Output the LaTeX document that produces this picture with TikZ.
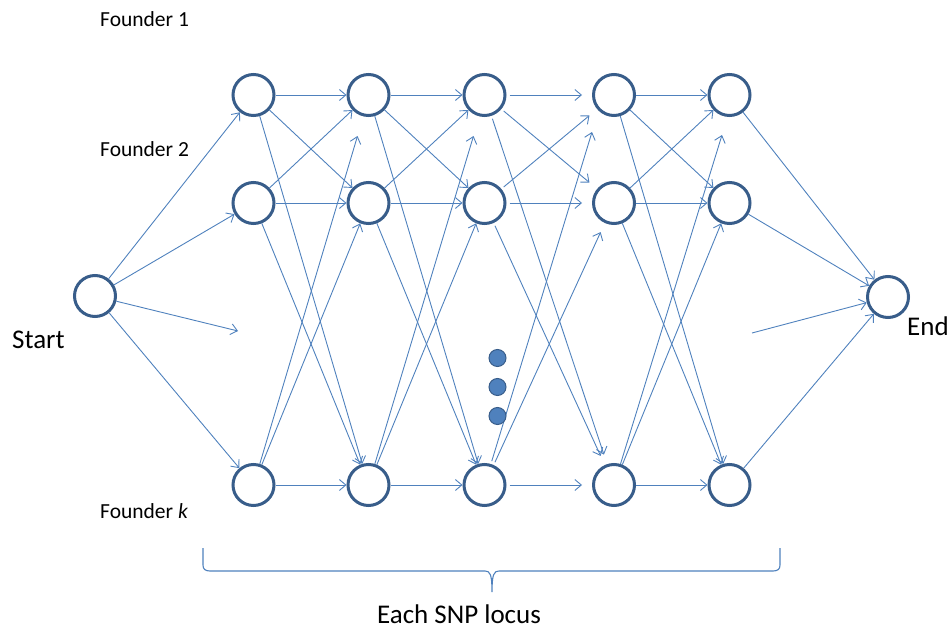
\documentclass[tikz,border=0pt]{standalone}
\usepackage{fontspec}
\setmainfont{Carlito}
\usetikzlibrary{arrows.meta}
\definecolor{lineblue}{RGB}{79,129,189}
\definecolor{ringblue}{RGB}{56,93,138}
\definecolor{dotblue}{RGB}{79,129,189}
\begin{document}
\begin{tikzpicture}[x=1pt,y=-1pt,
  state/.style={circle,draw=ringblue,line width=3pt,fill=white,minimum size=41pt,inner sep=0pt},
  conn/.style={draw=lineblue,line width=0.9pt,-{Straight Barb[length=6.5pt,width=11pt]}},
  gap/.style={shorten >=10pt,shorten <=3pt},
  dotnode/.style={circle,fill=dotblue,draw=ringblue,line width=1pt,minimum size=17pt,inner sep=0pt},
  smalllab/.style={font=\fontsize{21.5}{24}\selectfont,anchor=base west,inner sep=0pt,text=black},
  biglab/.style={font=\fontsize{27}{30}\selectfont,inner sep=0pt,text=black},
  bracestyle/.style={draw=lineblue,line width=1.1pt}]
\useasboundingbox (0,0) rectangle (952,628);

% nodes
\node[state] (st) at (95,296) {};
\node[state] (en) at (888,297) {};
\foreach \i/\x in {1/253.5,2/368.5,3/484.5,4/614,5/729.5}{
  \node[state] (t\i) at (\x,95) {};
  \node[state] (m\i) at (\x,203) {};
  \node[state] (b\i) at (\x,485) {};
}

% free ends
\coordinate (fs) at (238,331);
\coordinate (fe) at (752,333);
\coordinate (s2) at (357.5,136);
\coordinate (s3) at (473.5,136);
\coordinate (s4) at (592,132);
\coordinate (s5) at (722,135);

% start connectors
\draw[conn] (st) -- (t1);
\draw[conn] (st) -- (m1);
\draw[conn] (st) -- (fs);
\draw[conn] (st) -- (b1);

% column connectors
\foreach \i/\j in {1/2,2/3,4/5}{
  \draw[conn] (t\i) -- (t\j);
  \draw[conn] (t\i) -- (m\j);
  \draw[conn] (t\i) -- (b\j);
  \draw[conn] (m\i) -- (t\j);
  \draw[conn] (m\i) -- (m\j);
  \draw[conn] (m\i) -- (b\j);
  \draw[conn] (b\i) -- (m\j);
  \draw[conn] (b\i) -- (b\j);
  \draw[conn] (b\i) -- (s\j);
}
\draw[conn,gap] (t3) -- (t4);
\draw[conn,gap] (t3) -- (m4);
\draw[conn,gap] (t3) -- (b4);
\draw[conn,gap] (m3) -- (t4);
\draw[conn,gap] (m3) -- (m4);
\draw[conn,gap] (m3) -- (b4);
\draw[conn,gap] (b3) -- (m4);
\draw[conn,gap] (b3) -- (b4);
\draw[conn,shorten <=3pt] (b3) -- (s4);

% end connectors
\draw[conn] (t5) -- (en);
\draw[conn] (m5) -- (en);
\draw[conn] (fe) -- (en);
\draw[conn] (b5) -- (en);

% dots
\node[dotnode] (d1) at (497.5,358) {};
\node[dotnode] (d2) at (497.5,387) {};
\node[dotnode] (d3) at (497.5,416) {};

% brace
\draw[bracestyle] (203,548) -- (203,565) .. controls (203,569) and (205,571) .. (210,571)
  -- (485,571) .. controls (490,571) and (492,574) .. (492,592)
  .. controls (492,574) and (494,571) .. (499,571)
  -- (773,571) .. controls (778,571) and (780,569) .. (780,565) -- (780,548);

% labels
\node[smalllab] (f1) at (100,27) {Founder 1};
\node[smalllab] (f2) at (100,157) {Founder 2};
\node[smalllab] (fk) at (100,518) {Founder \textit{k}};
\node[biglab,anchor=base west] (lstart) at (12,348) {Start};
\node[biglab,anchor=base west] (lend) at (907,335) {End};
\node[biglab,anchor=base] (llocus) at (459,623) {Each SNP locus};
\end{tikzpicture}
\end{document}
